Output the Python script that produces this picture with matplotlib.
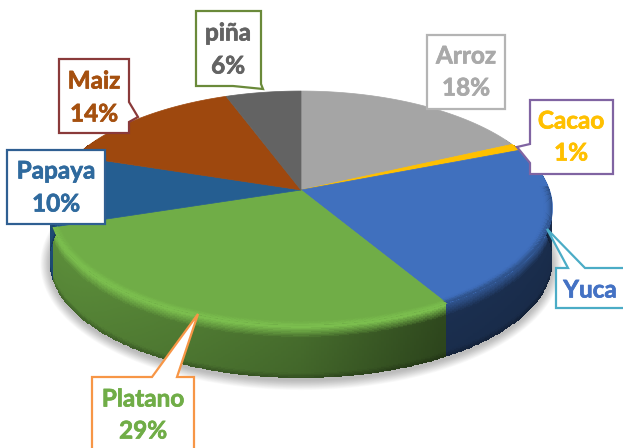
import numpy as np
import matplotlib
matplotlib.use('Agg')
import matplotlib.pyplot as plt
import matplotlib.patheffects as pe
from matplotlib.patches import Polygon

plt.rcParams['font.family'] = ['Lato', 'DejaVu Sans']

categories = ['Arroz', 'Cacao', 'Yuca', 'Platano', 'Papaya', 'Maiz', 'piña']
values = [18, 1, 22.5, 28.5, 10, 14.4, 5.6]
labels = ['18%', '1%', '', '29%', '10%', '14%', '6%']
colors = ['#A5A5A5', '#FFC000', '#4070BE', '#70AD47', '#255E91', '#9E480E', '#636363']
text_colors = ['#A9A9A9', '#FFC000', '#4472C4', '#70AD47', '#2F6A9E', '#A5500F', '#636363']
edge_colors = ['#B4B4B4', '#8064A2', '#4BACC6', '#F79646', '#2F5F92', '#8A3A3A', '#6A8A3A']

# callout outlines in pixels
callouts = [
    [(427, 35), (505, 35), (505, 109), (427, 109)],
    [(530, 100), (613, 100), (613, 174), (530, 174), (530, 163), (517, 147), (530, 144)],
    [(556, 268), (568, 268), (547, 229), (585, 268), (640, 268), (640, 308), (556, 308)],
    [(92, 377), (152, 377), (198, 314), (177, 377), (194, 377), (194, 470), (92, 470)],
    [(7, 150), (105, 150), (105, 224), (7, 224)],
    [(59, 59), (129, 59), (129, 102), (138, 117), (129, 122), (129, 133), (59, 133)],
    [(196, 11), (261, 11), (261, 84), (263, 89), (233, 86), (196, 86)],
]
text_pos = [(466, 56, 88), (571, 121, 153), (590, 290, None), (143, 399, 431),
            (56, 171, 204), (94, 81, 114), (228, 33, 66)]

cx, cy = 301, 190
A, B, k = 248.5, 114.2, 0.154
depth = 53


def rim(theta, r=1.0):
    # theta in degrees clockwise from the top, perspective disc
    t = np.radians(theta)
    x = r * np.sin(t)
    y = r * np.cos(t)
    w = 1 + k * y
    return cx + A * x / w, cy - B * y / w


rgb = np.array([matplotlib.colors.to_rgb(c) for c in colors])
edges = np.cumsum([0] + values) / sum(values) * 360


def slice_index(theta):
    return np.clip(np.searchsorted(edges, theta, side='right') - 1, 0, len(values) - 1)


fig = plt.figure(figsize=(6.23, 4.48), dpi=100)
ax = fig.add_axes([0, 0, 1, 1])
ax.set_xlim(0, 623)
ax.set_ylim(448, 0)
ax.axis('off')

# soft shadow under the disc
th = np.linspace(0, 360, 361)
for n in range(14):
    sx, sy = rim(th)
    sx = 301 + (sx - 301) * (1.0 + n * 0.0028)
    sy = 208 + (sy - 208) * (1.0 + n * 0.006) + depth + 3
    ax.add_patch(Polygon(np.c_[sx, sy], fc='black', ec='none', alpha=0.018, zorder=1))

# side wall
th = np.linspace(62, 298, 473)
tt = np.linspace(0, 1, 41)
mid_th = (th[:-1] + th[1:]) / 2
mid_t = (tt[:-1] + tt[1:]) / 2
rx, ry = rim(th)
X = np.tile(rx, (len(tt), 1))
Y = ry + tt[:, None] * depth
idx = slice_index(mid_th)
mx, _ = rim(mid_th)
shade = np.interp(mx, [50, 120, 300, 440, 560], [0.82, 0.76, 0.62, 0.42, 0.40])
wall = np.zeros((len(mid_t), len(mid_th), 3))
for i, t in enumerate(mid_t):
    f = np.interp(t, [0, 0.05, 0.25, 0.9, 1], [1.12, 1.05, 1.0, 0.95, 0.72])
    top = np.interp(t, [0, 0.04, 0.24], [1, 1, 0])
    highlight = np.where(idx == 3, 1.1, 0.72)
    val = top * highlight + (1 - top) * shade * f
    wall[i] = np.clip(rgb[idx] * val[:, None], 0, 1)
ax.pcolormesh(X, Y, wall, shading='flat', antialiased=False, zorder=2)

# top face
for i in range(len(values)):
    th = np.linspace(edges[i], edges[i + 1], 80)
    px, py = rim(th)
    pts = np.r_[[(cx, cy)], np.c_[px, py]]
    ax.add_patch(Polygon(pts, fc=colors[i], ec=colors[i], lw=0.5, zorder=3))

# bevel along the front edge
th = np.linspace(88, 272, 369)
rr = np.linspace(0.965, 1.0, 9)
bx = np.array([rim(th, r)[0] for r in rr])
by = np.array([rim(th, r)[1] for r in rr])
mid_th = (th[:-1] + th[1:]) / 2
idx = slice_index(mid_th)
bevel = np.zeros((len(rr) - 1, len(mid_th), 4))
for i in range(len(rr) - 1):
    a = ((i + 0.5) / (len(rr) - 1)) ** 2
    gain = np.where(idx == 3, 1.1, 0.72)
    bevel[i, :, :3] = np.clip(rgb[idx] * gain[:, None], 0, 1)
    bevel[i, :, 3] = a
ax.pcolormesh(bx, by, bevel, shading='flat', antialiased=False, zorder=4)

# callouts and their text
for i, name in enumerate(categories):
    ax.add_patch(Polygon(callouts[i], closed=True, fc='white', ec=edge_colors[i], lw=1.6,
                         joinstyle='miter', zorder=5))
    tx, y1, y2 = text_pos[i]
    thick = [pe.withStroke(linewidth=0.5, foreground=text_colors[i])]
    ax.text(tx, y1, name, color=text_colors[i], fontsize=17.5, fontweight='bold',
            ha='center', va='center', zorder=6, path_effects=thick)
    if y2 is not None:
        ax.text(tx, y2, labels[i], color=text_colors[i], fontsize=17.5, fontweight='bold',
                ha='center', va='center', zorder=6, path_effects=thick)

fig.savefig('out.png', dpi=100)
